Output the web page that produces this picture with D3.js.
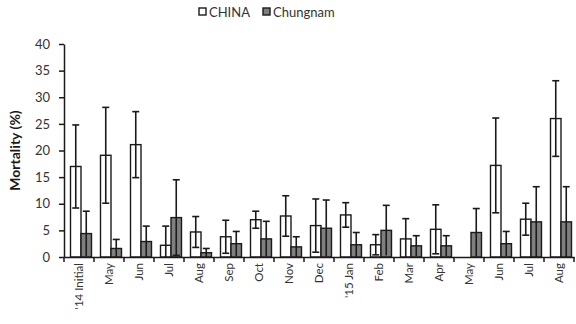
<!DOCTYPE html>
<html>
<head>
<meta charset="utf-8">
<script src="https://cdn.jsdelivr.net/npm/d3@7"></script>
<style>
  body { margin: 0; background: #fff; }
  text { font-family: Lato, "Open Sans", sans-serif; }
</style>
</head>
<body>
<div id="chart"></div>
<script>
// categories along x
const months = ["'14 Initial", "May", "Jun", "Jul", "Aug", "Sep", "Oct", "Nov", "Dec",
    "'15 Jan", "Feb", "Mar", "Apr", "May", "Jun", "Jul", "Aug"];
// mortality (%); null = no bar
const china      = [17.0, 19.1, 21.1, 2.2, 4.7, 3.8, 7.0, 7.7, 5.9, 7.9, 2.3, 3.4, 5.2, null, 17.2, 7.1, 26.0];
const chinaErr   = [7.8, 9.0, 6.2, 3.6, 2.9, 3.1, 1.6, 3.8, 5.0, 2.3, 1.9, 3.8, 4.6, null, 8.9, 3.0, 7.1];
const chungnam   = [4.4, 1.6, 2.9, 7.4, 0.8, 2.5, 3.4, 1.9, 5.4, 2.3, 5.0, 2.1, 2.1, 4.6, 2.5, 6.6, 6.6];
const chungErr   = [4.2, 1.7, 2.9, 7.1, 0.8, 2.3, 3.3, 1.9, 5.3, 2.3, 4.7, 1.9, 1.9, 4.5, 2.3, 6.6, 6.6];
const yTicks = [0, 5, 10, 15, 20, 25, 30, 35, 40];

const width = 576, height = 324;
const margin = { top: 44, right: 2, bottom: 67, left: 64 };

const svg = d3.select('#chart').append('svg')
    .attr('width', width)
    .attr('height', height);

const x = d3.scaleBand()
    .domain(d3.range(months.length))
    .range([margin.left, width - margin.right]);

const y = d3.scaleLinear()
    .domain([0, 40])
    .range([height - margin.bottom, margin.top]);

const barW = 10.5;
const groupShift = 2; // bars sit a bit right of category centre

const series = [
    { name: 'CHINA', values: china, errs: chinaErr, fill: '#ffffff', off: -barW },
    { name: 'Chungnam', values: chungnam, errs: chungErr, fill: '#7f7f7f', off: 0 }
];

series.forEach(s => {
    const data = s.values.map((v, i) => ({ i, v, e: s.errs[i] })).filter(d => d.v !== null);
    const xc = d => x(d.i) + x.bandwidth() / 2 + groupShift + s.off;

    svg.append('g').selectAll('rect')
        .data(data)
        .join('rect')
        .attr('x', xc)
        .attr('y', d => y(d.v))
        .attr('width', barW)
        .attr('height', d => y(0) - y(d.v))
        .attr('fill', s.fill)
        .attr('stroke', '#1a1a1a')
        .attr('stroke-width', 1.4);

    // error bars
    const eg = svg.append('g').attr('stroke', '#1a1a1a').attr('stroke-width', 1.6);
    data.forEach(d => {
        const cx = xc(d) + barW / 2;
        const lo = Math.max(0, d.v - d.e), hi = d.v + d.e;
        eg.append('line').attr('x1', cx).attr('x2', cx).attr('y1', y(lo)).attr('y2', y(hi));
        eg.append('line').attr('x1', cx - 3.5).attr('x2', cx + 3.5).attr('y1', y(hi)).attr('y2', y(hi));
        if (d.v - d.e > 0.3)
            eg.append('line').attr('x1', cx - 3.5).attr('x2', cx + 3.5).attr('y1', y(lo)).attr('y2', y(lo));
    });
});

// y axis
const yAxis = svg.append('g')
    .attr('transform', `translate(${margin.left},0)`)
    .call(d3.axisLeft(y).tickValues(yTicks).tickSize(5).tickSizeOuter(0));
yAxis.select('.domain').attr('stroke', '#1a1a1a').attr('stroke-width', 1.5);
yAxis.selectAll('.tick line').attr('stroke', '#1a1a1a').attr('stroke-width', 1.5);
yAxis.selectAll('.tick text')
    .attr('x', -14)
    .attr('fill', '#333')
    .style('font-size', '13px');

// x axis
const xAxis = svg.append('g')
    .attr('transform', `translate(0,${y(0)})`)
    .call(d3.axisBottom(x).tickFormat(i => months[i]).tickSize(0).tickSizeOuter(0));
xAxis.select('.domain').attr('stroke', '#1a1a1a').attr('stroke-width', 1.5);
xAxis.selectAll('.tick line').remove();
xAxis.selectAll('.tick text')
    .attr('transform', 'rotate(-90)')
    .attr('x', -6)
    .attr('y', 0)
    .attr('dy', '0.35em')
    .attr('text-anchor', 'end')
    .attr('fill', '#333')
    .style('font-size', '11.5px');
// category boundary ticks
svg.append('g').selectAll('line')
    .data(d3.range(months.length + 1))
    .join('line')
    .attr('x1', i => margin.left + i * x.step())
    .attr('x2', i => margin.left + i * x.step())
    .attr('y1', y(0))
    .attr('y2', y(0) + 5)
    .attr('stroke', '#1a1a1a')
    .attr('stroke-width', 1.5);

// y label
svg.append('text')
    .attr('transform', `translate(20,${(margin.top + y(0)) / 2}) rotate(-90)`)
    .attr('text-anchor', 'middle')
    .style('font-size', '14px')
    .style('font-weight', 'bold')
    .attr('fill', '#1a1a1a')
    .text('Mortality (%)');

// legend
const legend = svg.append('g').attr('transform', 'translate(199,8)');
let lx = 0;
series.forEach(s => {
    legend.append('rect')
        .attr('x', lx).attr('y', 0)
        .attr('width', 7).attr('height', 7)
        .attr('fill', s.fill)
        .attr('stroke', '#1a1a1a')
        .attr('stroke-width', 1.4);
    const t = legend.append('text')
        .attr('x', lx + 10).attr('y', 4)
        .attr('dy', '0.35em')
        .style('font-size', '13px')
        .attr('fill', '#333')
        .text(s.name);
    lx += 10 + t.node().getComputedTextLength() + 13;
});
</script>
</body>
</html>
